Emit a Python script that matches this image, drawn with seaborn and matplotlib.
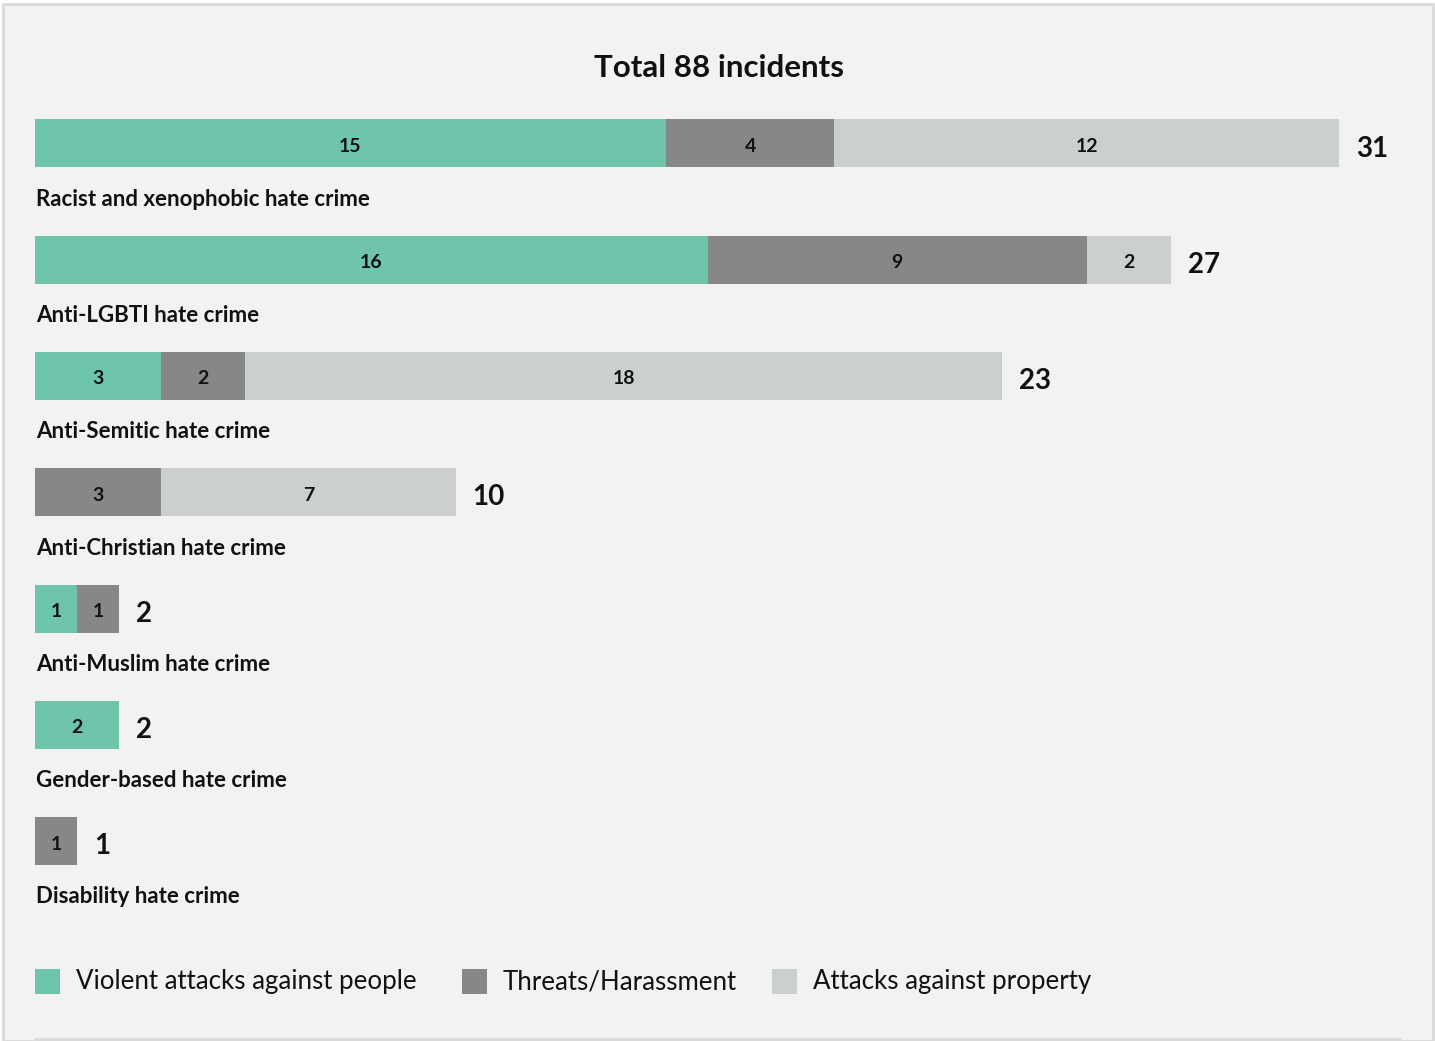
import matplotlib
matplotlib.use("Agg")
import matplotlib.pyplot as plt
from matplotlib.patches import Rectangle
from matplotlib.lines import Line2D
import seaborn as sns
import pandas as pd
import numpy as np

categories = ["Racist and xenophobic hate crime", "Anti-LGBTI hate crime",
              "Anti-Semitic hate crime", "Anti-Christian hate crime",
              "Anti-Muslim hate crime", "Gender-based hate crime",
              "Disability hate crime"]
violent = [15, 16, 3, 0, 1, 2, 0]
threats = [4, 9, 2, 3, 1, 0, 1]
property_ = [12, 2, 18, 7, 0, 0, 0]
series_names = ["Violent attacks against people", "Threats/Harassment", "Attacks against property"]
title = "Total 88 incidents"

colors = ["#6fc4ac", "#878787", "#cbcfce"]
BG = "#f2f2f2"

sns.set_theme(style="white")
plt.rcParams['font.family'] = ['Lato', 'DejaVu Sans']

W, H = 1435, 1041
fig = plt.figure(figsize=(W / 100, H / 100), dpi=100)
fig.patch.set_facecolor("white")

# background panel with border
fig.patches.append(Rectangle((3 / W, 0), (1430) / W, (H - 4) / H, transform=fig.transFigure,
                             facecolor=BG, edgecolor="#dadada", linewidth=2, zorder=-10))
fig.lines.append(Line2D([35 / W, 1400 / W], [2 / H, 2 / H], transform=fig.transFigure,
                        color="#dadada", linewidth=2))

# axes geometry (pixels)
x0, x1 = 35, 1339
y_top, y_bot = 143.3 - 116.3 * 0.5, 143.3 + 116.3 * 6.5
ax = fig.add_axes([x0 / W, 1 - y_bot / H, (x1 - x0) / W, (y_bot - y_top) / H])
ax.set_facecolor("none")

df = pd.DataFrame({"category": categories, "violent": violent,
                   "threats": threats, "property": property_})
df["c1"] = df["violent"]
df["c2"] = df["violent"] + df["threats"]
df["c3"] = df["c2"] + df["property"]

bw = 48 / 116.3
for col, c in [("c3", colors[2]), ("c2", colors[1]), ("c1", colors[0])]:
    sns.barplot(data=df, y="category", x=col, order=categories, color=c,
                width=bw, saturation=1, ax=ax, edgecolor="none", linewidth=0)

ax.set_xlim(0, 31)
ax.set_ylim(6.5, -0.5)
ax.axis("off")

px = 31 / (x1 - x0)
for i, row in df.iterrows():
    left = 0
    for v in [row["violent"], row["threats"], row["property"]]:
        if v > 0:
            ax.text(left + v / 2, i + 0.025, f"{v}", ha="center", va="center",
                    fontsize=14, fontweight="bold", color="#111111")
        left += v
    ax.text(row["c3"] + 17 * px, i + 0.045, f"{row['c3']}", ha="left", va="center",
            fontsize=20, fontweight="bold", color="#111111")
    ax.text(1 * px, i + 0.48, row["category"], ha="left", va="center",
            fontsize=16, fontweight="bold", color="#111111")

fig.text(719 / W, 1 - 68 / H, title, ha="center", va="center",
         fontsize=22.5, fontweight="bold", color="#111111")

# legend
sq = 25
leg_y = 982
for (sx, tx), name, c in zip([(35, 76), (462, 503), (772, 813)], series_names, colors):
    fig.patches.append(Rectangle((sx / W, 1 - (leg_y - 1 + sq / 2) / H), sq / W, sq / H,
                                 transform=fig.transFigure, facecolor=c, edgecolor="none"))
    fig.text(tx / W, 1 - leg_y / H, name, ha="left", va="center",
             fontsize=18.6, color="#111111")

fig.savefig("out.png", dpi=100, facecolor=fig.get_facecolor())
